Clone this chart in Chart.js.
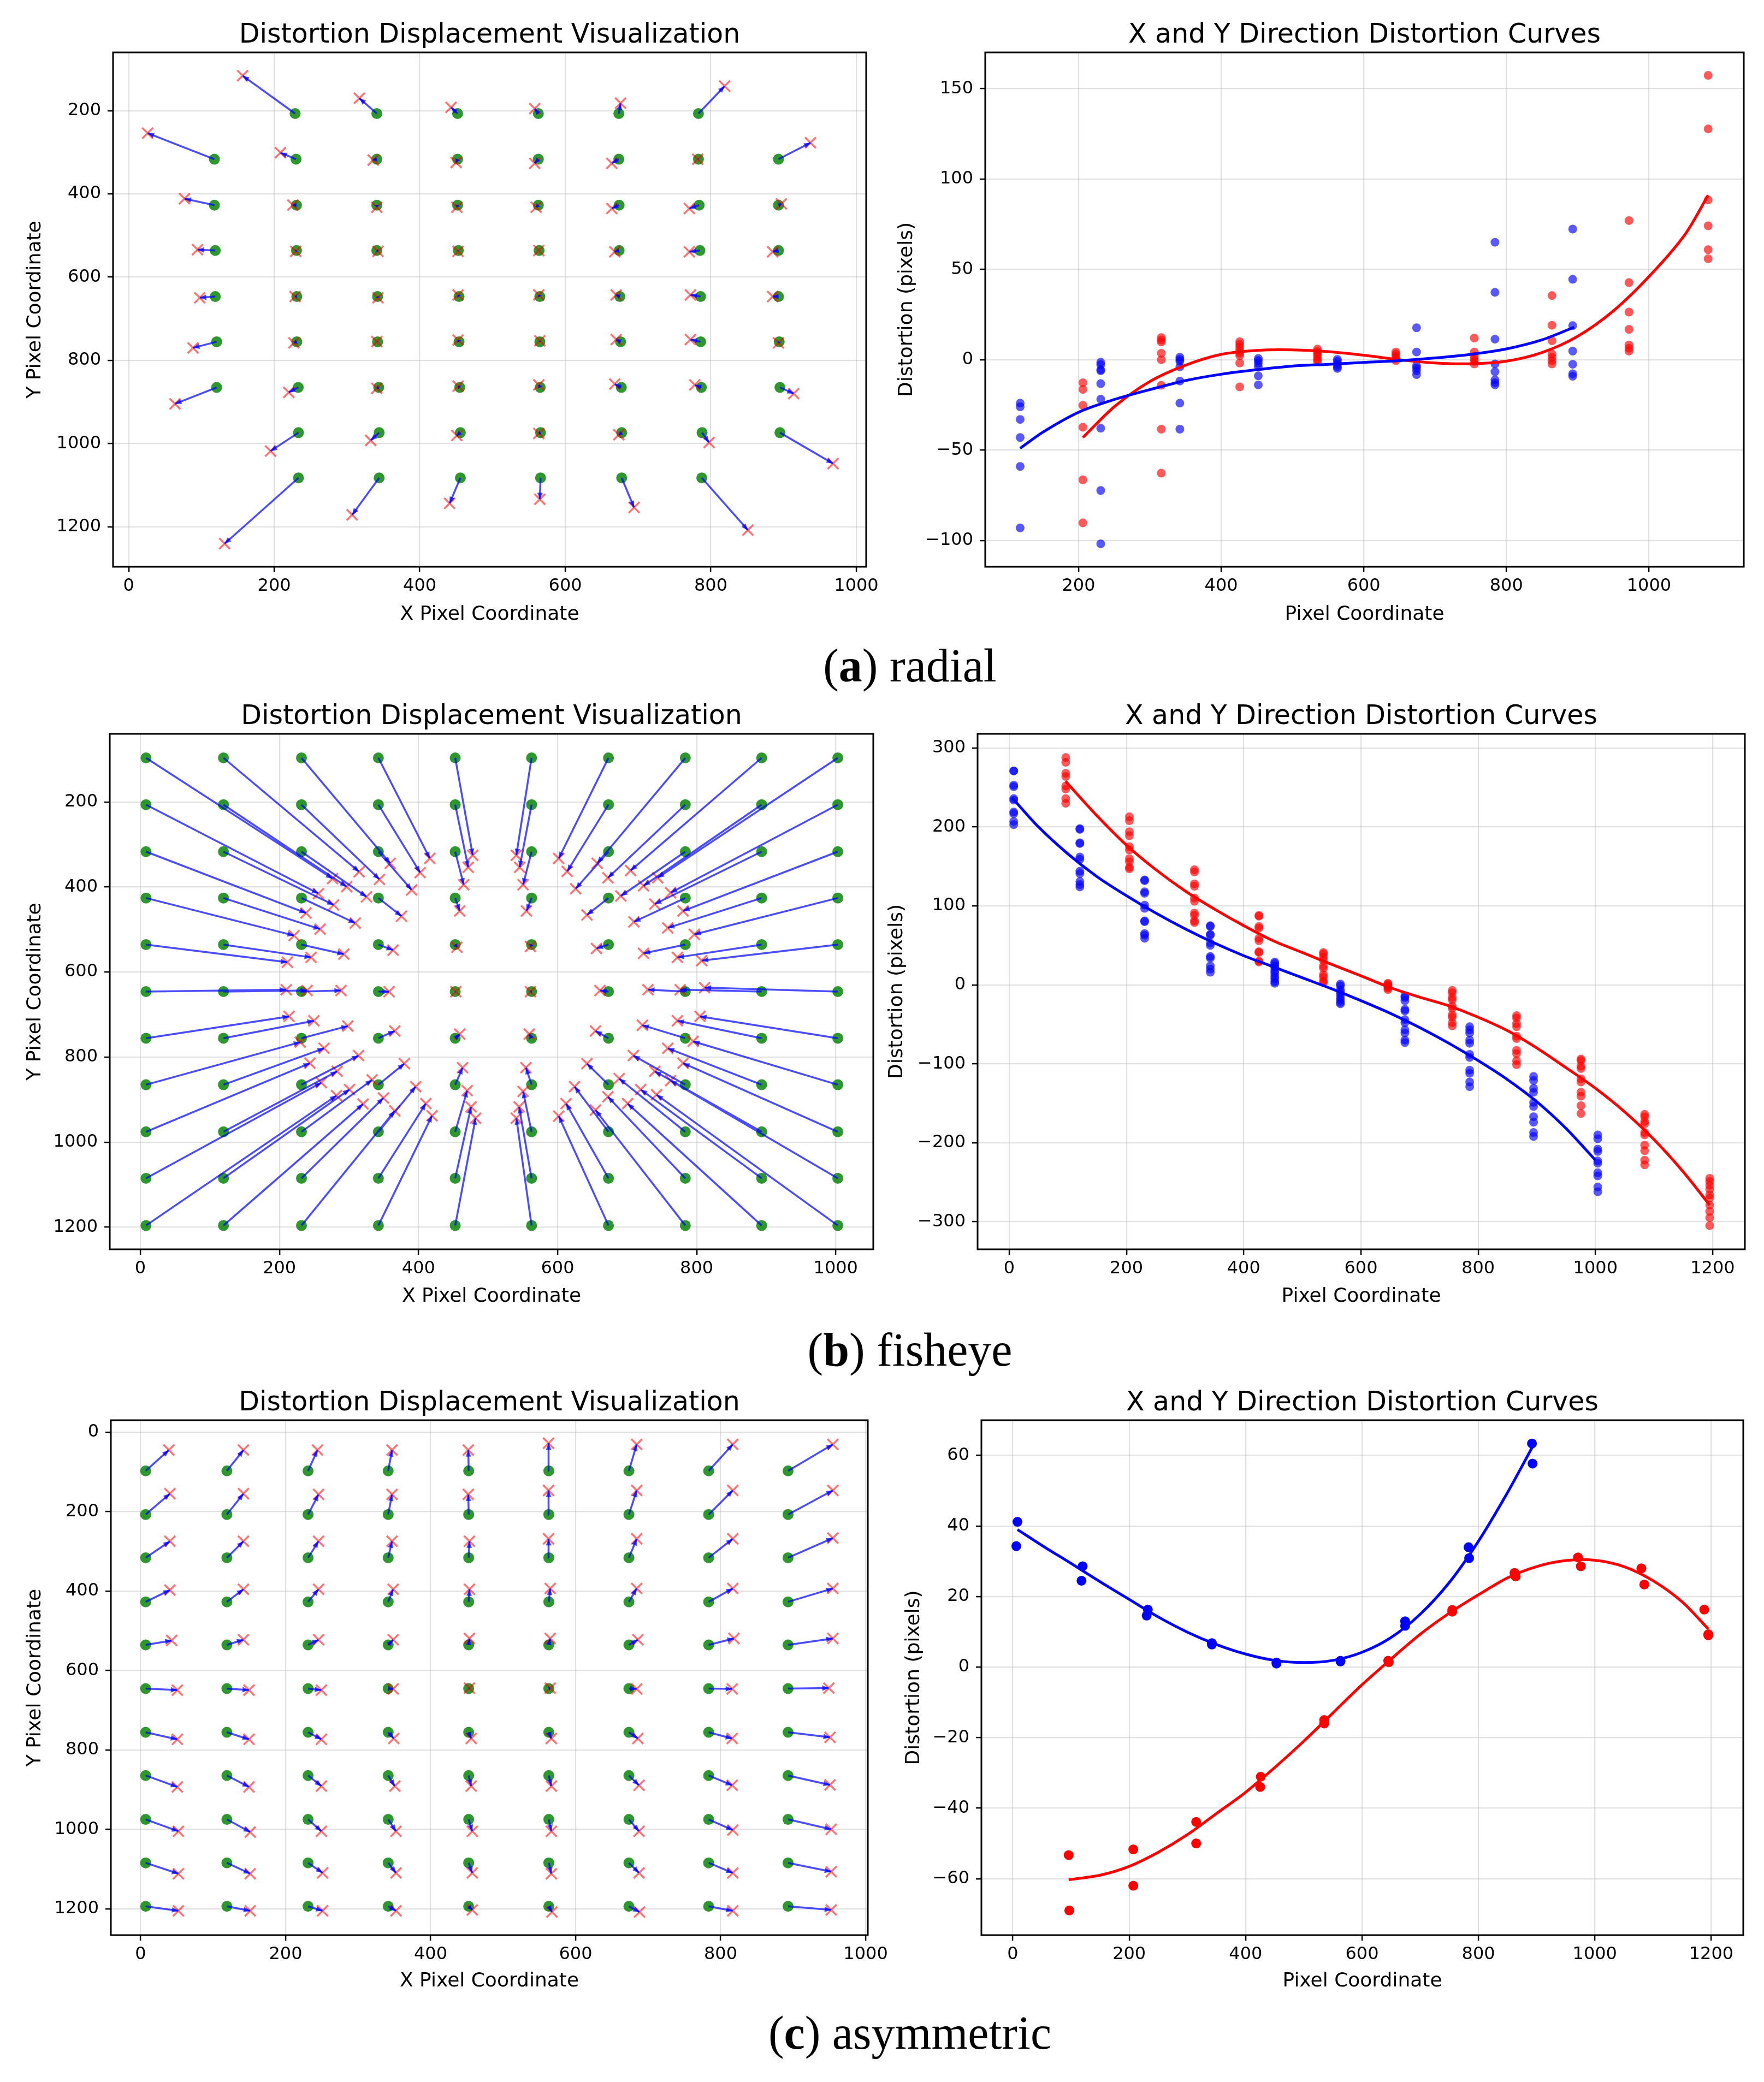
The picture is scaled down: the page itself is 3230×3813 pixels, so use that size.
<!DOCTYPE html>
<html>
<head>
<meta charset="utf-8">
<script src="https://cdn.jsdelivr.net/npm/chart.js@4.4.0/dist/chart.umd.min.js"></script>
<style>
html, body { margin: 0; padding: 0; background: #fff; }
body { width: 3230px; height: 3813px; position: relative; overflow: hidden; }
canvas { position: absolute; }
.caption { position: absolute; left: 0; width: 3332px; text-align: center; font-family: "Liberation Serif", serif; font-size: 86px; line-height: 86px; color: #000; white-space: nowrap; }
</style>
</head>
<body>
<canvas id="radialField"></canvas>
<canvas id="radialCurves"></canvas>
<canvas id="fisheyeField"></canvas>
<canvas id="fisheyeCurves"></canvas>
<canvas id="asymField"></canvas>
<canvas id="asymCurves"></canvas>
<div class="caption" style="top:1176px">(<b>a</b>) radial</div>
<div class="caption" style="top:2429px">(<b>b</b>) fisheye</div>
<div class="caption" style="top:3680px">(<b>c</b>) asymmetric</div>
<script>
// ---------- (a) radial : displacement field ----------
const radialRowY = [207, 316.6, 427, 536, 646.6, 755.3, 865, 973.7, 1082.4]
const radialOrigX = [
    [228.7, 341, 452, 563, 673.6, 783],
    [117.8, 230, 341, 452, 563, 673.6, 783, 893],
    [117.8, 230.6, 341, 452, 563, 674, 784, 893],
    [119, 230.6, 341, 453, 564, 674, 785, 893],
    [119, 231, 342, 454, 565, 675, 786, 893],
    [120.9, 231, 342, 454, 565, 676, 786, 894],
    [120.9, 233, 343.6, 455, 565.5, 677, 787, 895],
    [233.3, 344.2, 455.8, 566, 677.5, 788, 895],
    [233.3, 344.2, 455.8, 566, 677.5, 787.6]
]
const radialDistX = [
    [156.6, 317, 443, 558, 676, 819],
    [26, 208.5, 336, 450, 558, 664, 782, 937],
    [76.7, 225.6, 341, 451, 560, 664, 770.5, 897],
    [94.6, 229.5, 342.6, 452.7, 563.6, 668, 770.5, 885],
    [97.7, 228.7, 342.6, 452.7, 563.6, 670, 772, 885],
    [88.4, 227, 341, 452.7, 565, 670, 772, 893],
    [63.6, 220, 341, 452.7, 563.6, 668, 778, 914],
    [195, 332.6, 451, 563.6, 673.6, 797.7, 968],
    [131.8, 307, 441, 565, 694.6, 851]
]
const radialDistY = [
    [116, 170, 192, 195, 182, 141],
    [254, 301, 318.6, 324.5, 326.5, 326.5, 316.6, 277],
    [411.5, 427, 432, 432, 432, 435, 435, 424],
    [534, 538, 538, 538, 536, 539, 539, 539],
    [649.6, 646.6, 649.6, 642.7, 642.7, 642.7, 642.7, 646.6],
    [770, 758, 755, 751, 753, 750, 750, 758],
    [904.5, 877, 867, 862, 859, 857, 859, 880],
    [1018, 992.5, 980.6, 975.7, 978.7, 997.4, 1048],
    [1240.5, 1171.3, 1143.7, 1133.8, 1153.6, 1208]
]
const radialFieldXTicks = [0, 200, 400, 600, 800, 1000]
const radialFieldYTicks = [200, 400, 600, 800, 1000, 1200]

// ---------- (a) radial : curves ----------
const radialBlueCols = [118, 231, 342, 452, 563, 674, 784, 893]
const radialBlueVals = [
    [-24, -26, -33, -43, -59, -93],
    [-1.4, -2.7, -5.5, -6.1, -13.2, -21.8, -37.9, -72.3, -101.8],
    [1.4, 0.2, -0.9, -3.9, -11.8, -24, -38.4],
    [0.7, -0.5, -2, -3.9, -8.9, -13.9],
    [0.2, -0.9, -2.5, -3.9, -4.8],
    [17.7, 4.3, -3.2, -4.5, -6.1, -8.2],
    [65, 37.3, 11.4, -2.3, -6.6, -11.1, -12.7, -13.9],
    [72.3, 44.5, 18.9, 4.8, -2.5, -7.7, -9.1]
]
const radialRedCols = [206, 316, 426, 535, 645, 755, 864, 972, 1083]
const radialRedVals = [
    [-12.7, -16.4, -25.2, -37.3, -66.4, -90.2],
    [12.3, 10.9, 9.8, 3.6, 0, -14.1, -38.4, -62.7],
    [10, 8.6, 7, 5.2, 3.6, 2.3, -1.8, -15],
    [5.9, 4.5, 3.2, 1.8, 0.2, -0.9],
    [4.3, 3.2, 1.8, 0.7, -0.5],
    [12, 4.3, 2, 0.5, -0.9, -2.3],
    [35.5, 19.1, 10.5, 3.2, 1.4, -0.5, -2.3],
    [77, 42.7, 26.4, 16.8, 8.2, 6.4, 4.8],
    [157.3, 127.7, 88.4, 74.1, 60.9, 55.9]
]
const radialBlueCurveX = [118, 150, 200, 250, 300, 350, 400, 450, 500, 550, 600, 650, 700, 750, 800, 850, 895]
const radialBlueCurveY = [-49, -40, -29, -22, -16.5, -11.5, -8, -5.5, -3.5, -2.5, -1.5, -0.5, 1, 3, 6, 11, 18]
const radialRedCurveX = [206, 250, 300, 350, 400, 450, 500, 550, 600, 650, 700, 750, 800, 850, 900, 950, 1000, 1050, 1083]
const radialRedCurveY = [-43, -26, -12, -3, 3, 5.2, 5.5, 4.5, 2.5, 0, -1.8, -2.2, -0.8, 4, 13, 27, 46, 69, 91]
const radialCurveXTicks = [200, 400, 600, 800, 1000]
const radialCurveYTicks = [-100, -50, 0, 50, 100, 150]

// ---------- (b) fisheye : displacement field ----------
const fisheyeColX = [8.1, 119.5, 231.7, 342.3, 452.8, 562.6, 673.2, 783.7, 893.5, 1003]
const fisheyeRowY = [96.5, 206.5, 317, 426, 535.5, 646, 755.7, 865, 975.7, 1085, 1196]
const fisheyeDistX = [
    [276.4, 314.6, 359.3, 416.3, 478, 540.7, 601.6, 657, 705, 744],
    [256.1, 296.7, 343.9, 402.4, 471.5, 545.5, 613.8, 672.4, 723.6, 762.6],
    [238.2, 278, 325.2, 390.2, 465, 550.4, 626, 691, 739.8, 780.5],
    [221.1, 258.5, 309, 375.6, 459.3, 555.3, 642.3, 709.8, 758.5, 796.7],
    [211.4, 245.5, 292.7, 363.4, 455.3, 561, 656, 723.6, 772.4, 807.3],
    [209.8, 239.8, 288.6, 357.7, 453.7, 561, 661, 730, 776.4, 811.4],
    [213.8, 249.6, 298.4, 365.9, 459.3, 559.3, 654.5, 722, 772.4, 804.9],
    [230, 264.2, 313.8, 379.7, 463.4, 554.5, 642.3, 709, 758.5, 795],
    [243.9, 283, 333.3, 396, 470, 550.4, 624.4, 688.6, 739.8, 780.5],
    [260.2, 300.8, 349.6, 410.6, 475.6, 544.7, 612.2, 672.4, 719.5, 762.6],
    [282.1, 320.3, 365.9, 419.5, 482.1, 540.7, 601.6, 654.5, 700.8, 742.3]
]
const fisheyeDistY = [
    [380.4, 364.3, 344.3, 333, 325.4, 325.4, 333, 344.3, 361.4, 378.5],
    [415.6, 399.4, 382.3, 366.2, 353.8, 353.8, 363.3, 378.5, 397.5, 413.7],
    [461.2, 442.2, 423.2, 407, 394.7, 394.7, 404.2, 421.3, 440.3, 456.4],
    [514.3, 499.1, 484.9, 468.8, 456.4, 456.4, 465.9, 482, 496.3, 511.5],
    [577, 565.6, 558, 548.5, 541.9, 540, 544.7, 556.1, 565.6, 573.2],
    [641.6, 643.5, 643.5, 646.3, 646.3, 646.3, 643.5, 641.6, 641.6, 636.8],
    [704.3, 714.7, 727.1, 738.5, 746, 746, 738.5, 725.2, 714.7, 704.3],
    [765, 779.3, 796.4, 815.4, 824.9, 824.9, 815.4, 796.4, 779.3, 763.1],
    [814.4, 833.4, 853.4, 869.5, 879, 880.9, 869.5, 850.5, 833.4, 814.4],
    [860, 876.2, 896.1, 909.4, 917, 917, 909.4, 893.3, 876.2, 855.3],
    [890.4, 910.3, 926.5, 937.9, 943.6, 943.6, 938.8, 924.6, 909.4, 888.5]
]
const fisheyeFieldXTicks = [0, 200, 400, 600, 800, 1000]
const fisheyeFieldYTicks = [200, 400, 600, 800, 1000, 1200]

// ---------- (b) fisheye : curves ----------
const fisheyeBlueCols = [7.7, 120.5, 231, 343, 453, 565, 675, 785.5, 894.5, 1004]
const fisheyeBlueVals = [
    [271, 271, 253, 251, 236, 234, 219, 217, 207, 203],
    [198, 197, 180, 179, 162, 159, 144, 141, 131, 127, 124],
    [133, 132, 118, 116, 101, 97, 81, 80, 65, 63, 59],
    [75, 74, 64, 63, 53, 50, 36, 34, 24, 20, 16],
    [29, 27, 24, 22, 18, 15, 11, 8, 4, 2],
    [1, -1, -6, -9, -12, -16, -19, -22, -24],
    [-14, -16, -20, -31, -33, -44, -48, -57, -61, -70, -73],
    [-53, -57, -61, -70, -74, -88, -92, -108, -112, -123, -129],
    [-116, -121, -131, -136, -149, -154, -167, -174, -187, -192],
    [-190, -195, -208, -211, -223, -226, -238, -242, -256, -262]
]
const fisheyeRedCols = [96.4, 205, 316, 426, 536, 646, 755.7, 865.5, 975.4, 1084, 1195]
const fisheyeRedVals = [
    [288, 282, 268, 264, 252, 248, 236, 230],
    [213, 208, 194, 189, 175, 171, 160, 156, 149, 147],
    [146, 143, 128, 125, 110, 106, 91, 88, 81, 79],
    [88, 87, 74, 72, 59, 56, 42, 41, 30, 29],
    [41, 39, 35, 31, 24, 21, 13, 10, 5, 3],
    [2, 1, -1, -2, -4, -6],
    [-7, -10, -16, -19, -27, -30, -38, -41, -48, -52],
    [-39, -42, -49, -53, -65, -68, -83, -87, -96, -101],
    [-94, -96, -103, -106, -119, -123, -136, -141, -153, -163],
    [-164, -167, -173, -176, -187, -190, -203, -210, -222, -228],
    [-245, -249, -254, -259, -266, -270, -279, -287, -295, -305]
]
const fisheyeBlueCurveX = [5, 50, 100, 150, 200, 250, 300, 350, 400, 450, 500, 550, 600, 650, 700, 750, 800, 850, 900, 950, 1000]
const fisheyeBlueCurveY = [237, 200, 166, 137, 113, 91, 71, 53, 37, 23, 9, -5, -20, -36, -54, -74, -96, -120, -148, -182, -222]
const fisheyeRedCurveX = [96, 150, 200, 250, 300, 350, 400, 450, 500, 550, 600, 650, 700, 750, 800, 850, 900, 950, 1000, 1050, 1100, 1150, 1195]
const fisheyeRedCurveY = [258, 214, 177, 146, 119, 96, 75, 56, 41, 26, 11.5, -3.5, -15.5, -26.5, -41, -58, -80, -105, -131, -161, -196, -237, -279]
const fisheyeCurveXTicks = [0, 200, 400, 600, 800, 1000, 1200]
const fisheyeCurveYTicks = [-300, -200, -100, 0, 100, 200, 300]

// ---------- (c) asymmetric : displacement field ----------
const asymColX = [7, 119, 231, 341.5, 452.5, 563, 673.5, 783.5, 893]
const asymRowY = [97, 207, 316, 427, 535.5, 645.5, 755.5, 864.5, 975, 1084.5, 1194]
const asymDistX = [
    [39, 141.9, 244, 346.8, 452, 562.7, 684.3, 816.8, 954.8],
    [40.5, 141.9, 245.5, 346.8, 452, 562.7, 684.3, 816.8, 954.8],
    [40.5, 141.9, 245.5, 346.8, 453.6, 562.7, 684.3, 816.8, 954.8],
    [40.5, 141.9, 245.5, 348.4, 453.6, 565, 684.3, 816.8, 954.8],
    [42.9, 141.9, 245.5, 348.4, 453.6, 565, 685.9, 818.4, 954.8],
    [50.7, 149.6, 249.4, 348.4, 453.6, 565, 684.3, 816, 949.3],
    [50.7, 149.6, 249.4, 349.2, 456, 566.6, 685.9, 816, 950.9],
    [50.7, 149.6, 249.4, 350.7, 456, 566.6, 687.5, 816, 950.9],
    [52.2, 151.2, 249.4, 352.3, 457.5, 566.6, 687.5, 816.8, 952.5],
    [52.2, 151.2, 251, 352.3, 457.5, 566.6, 687.5, 816.8, 952.5],
    [52.2, 151.2, 251, 352.3, 457.5, 567.4, 688.2, 816.8, 952.5]
]
const asymDistY = [
    [44.7, 44.7, 44.7, 44.7, 44.7, 27.4, 30.5, 30.5, 30.5],
    [154.5, 154.5, 156.5, 156.5, 156.5, 146.3, 146.3, 146.3, 146.3],
    [274.4, 274.4, 274.4, 274.4, 274.4, 268.3, 268.3, 268.3, 266.3],
    [397.4, 395.3, 395.3, 395.3, 395.3, 393.3, 393.3, 393.3, 393.3],
    [524.4, 522.4, 522.4, 522.4, 519.3, 519.3, 522.4, 519.3, 519.3],
    [649.4, 649.4, 649.4, 646.3, 644.3, 644.3, 646.3, 646.3, 644.3],
    [773.4, 773.4, 773.4, 771.3, 771.3, 771.3, 771.3, 771.3, 768.3],
    [893.3, 893.3, 891.3, 891.3, 891.3, 891.3, 889.2, 889.2, 888.2],
    [1005, 1007, 1005, 1005, 1005, 1005, 1005, 1002, 1000],
    [1111.8, 1111.8, 1109.8, 1109.8, 1109.8, 1111.8, 1109.8, 1109.8, 1106.7],
    [1205.3, 1205.3, 1205.3, 1205.3, 1203, 1208.3, 1208.3, 1205.3, 1203]
]
const asymFieldXTicks = [0, 200, 400, 600, 800, 1000]
const asymFieldYTicks = [0, 200, 400, 600, 800, 1000, 1200]

// ---------- (c) asymmetric : curves ----------
const asymBlueX = [8, 6, 120, 118, 232, 230, 342, 342, 453, 453, 563, 563, 674, 674, 783, 784, 892, 893]
const asymBlueY = [41.2, 34.3, 28.6, 24.5, 16.3, 14.6, 6.8, 6.4, 1.0, 1.3, 1.6, 1.8, 13, 11.7, 34, 30.9, 63.4, 57.7]
const asymRedX = [96, 97, 207, 207, 315, 315, 426, 425, 535, 535, 645, 646, 755, 755, 862, 864, 971, 976, 1080, 1085, 1188, 1195, 1195]
const asymRedY = [-53.3, -69, -51.7, -62, -43.9, -50, -31.1, -34, -15, -16, 1.8, 1.4, 16.2, 15.7, 26.7, 25.7, 31.1, 28.6, 28, 23.4, 16.3, 9.3, 9]
const asymBlueCurveX = [8, 50, 100, 150, 200, 250, 300, 350, 400, 450, 500, 550, 600, 650, 700, 750, 800, 850, 893]
const asymBlueCurveY = [39, 34.5, 29.4, 24.2, 19.2, 14.2, 9.9, 6.4, 3.7, 1.9, 1.3, 1.9, 4.2, 8.4, 15, 24, 35.7, 49.5, 62.5]
const asymRedCurveX = [96, 150, 200, 250, 300, 350, 400, 450, 500, 550, 600, 650, 700, 750, 800, 850, 900, 950, 1000, 1050, 1100, 1150, 1195]
const asymRedCurveY = [-60.3, -59, -56.5, -52.5, -47.5, -41.5, -35.5, -28.5, -21, -13, -5, 2.3, 9.3, 15.3, 20.5, 25.3, 28.5, 30.2, 30.3, 28.5, 24.5, 18.5, 10.8]
const asymCurveXTicks = [0, 200, 400, 600, 800, 1000, 1200]
const asymCurveYTicks = [-60, -40, -20, 0, 20, 40, 60]

// ---------- helpers ----------
Chart.defaults.font.family = "'DejaVu Sans', sans-serif"
Chart.defaults.color = '#000'

const GRID = 'rgba(176,176,176,0.38)'

const pairs = (xs, ys) => xs.map((x, i) => ({ x, y: ys[i] }))
const columns = (xs, vals) => xs.flatMap((x, i) => vals[i].map(v => ({ x, y: v })))
const gridOf = (colX, rowY) => rowY.flatMap(y => colX.map(x => ({ x, y })))
const nested = (xRows, yRows) => xRows.flatMap((row, r) => row.map((x, c) => ({ x, y: yRows[r][c] })))

// black box around the plot area, like matplotlib spines
const framePlugin = {
    id: 'frame',
    afterDraw(chart) {
        const { ctx, chartArea: a } = chart
        ctx.save()
        ctx.strokeStyle = '#000'
        ctx.lineWidth = 3
        ctx.strokeRect(a.left, a.top, a.right - a.left, a.bottom - a.top)
        ctx.restore()
    }
}

// small heads at the end of each displacement segment
const arrowPlugin = {
    id: 'arrowHeads',
    afterDatasetsDraw(chart) {
        const { ctx, scales: { x, y } } = chart
        chart.data.datasets.forEach(ds => {
            if (!ds.arrowHead) return
            ctx.save()
            ctx.fillStyle = ds.borderColor
            for (let i = 0; i + 1 < ds.data.length; i += 3) {
                const x0 = x.getPixelForValue(ds.data[i].x), y0 = y.getPixelForValue(ds.data[i].y)
                const x1 = x.getPixelForValue(ds.data[i + 1].x), y1 = y.getPixelForValue(ds.data[i + 1].y)
                const len = Math.hypot(x1 - x0, y1 - y0)
                if (len < 2) continue
                const ux = (x1 - x0) / len, uy = (y1 - y0) / len
                const h = Math.min(12, len), w = 5
                ctx.beginPath()
                ctx.moveTo(x1, y1)
                ctx.lineTo(x1 - ux * h - uy * w, y1 - uy * h + ux * w)
                ctx.lineTo(x1 - ux * h + uy * w, y1 - uy * h - ux * w)
                ctx.closePath()
                ctx.fill()
            }
            ctx.restore()
        })
    }
}

function fieldDatasets(orig, dist) {
    const segs = []
    orig.forEach((p, i) => segs.push(p, dist[i], { x: dist[i].x, y: null }))
    return [
        { data: segs, showLine: true, borderColor: 'rgba(0,0,255,0.7)', borderWidth: 3.5, pointRadius: 0, spanGaps: false, arrowHead: true, order: 0 },
        { data: dist, pointStyle: 'crossRot', pointRadius: 14, borderColor: 'rgba(255,0,0,0.55)', pointBorderColor: 'rgba(255,0,0,0.55)', borderWidth: 3.5, pointBorderWidth: 3.5, backgroundColor: 'rgba(0,0,0,0)', order: 1 },
        { data: orig, pointRadius: 10, backgroundColor: 'rgba(0,128,0,0.82)', pointBackgroundColor: 'rgba(0,128,0,0.82)', borderWidth: 0, pointBorderWidth: 0, order: 2 }
    ]
}

function curveDatasets(blueCurve, redCurve, bluePts, redPts, alpha, radius) {
    const blue = `rgba(0,0,255,${alpha})`, red = `rgba(255,0,0,${alpha})`
    return [
        { data: blueCurve, showLine: true, borderColor: '#0000ff', borderWidth: 5, pointRadius: 0, tension: 0.3, order: 0 },
        { data: redCurve, showLine: true, borderColor: '#ff0000', borderWidth: 5, pointRadius: 0, tension: 0.3, order: 0 },
        { data: bluePts, pointRadius: radius, backgroundColor: blue, pointBackgroundColor: blue, borderWidth: 0, pointBorderWidth: 0, order: 1 },
        { data: redPts, pointRadius: radius, backgroundColor: red, pointBackgroundColor: red, borderWidth: 0, pointBorderWidth: 0, order: 1 }
    ]
}

function axisOptions(range, ticks, title, horizontal, titlePad, size, reverse) {
    return {
        type: 'linear',
        min: range[0],
        max: range[1],
        reverse: !!reverse,
        afterBuildTicks: s => { s.ticks = ticks.map(v => ({ value: v })) },
        afterFit: s => { if (horizontal) s.height = size; else s.width = size },
        grid: { color: GRID, lineWidth: 2.2, drawTicks: true, tickLength: 10, tickColor: '#000', tickWidth: 2.5 },
        border: { display: false },
        ticks: { font: { size: 32 }, color: '#000', padding: horizontal ? 6 : 12, maxRotation: 0, autoSkip: false, callback: v => String(v).replace('-', '\u2212') },
        title: { display: true, text: title, font: { size: 36 }, color: '#000', padding: horizontal ? { top: 0, bottom: titlePad } : { top: titlePad, bottom: 0 } }
    }
}

function drawPanel(id, frame, spec) {
    const padL = 200, padT = 90, padR = 50, padB = 130
    const canvas = document.getElementById(id)
    const w = frame.r - frame.l + padL + padR
    const h = frame.b - frame.t + padT + padB
    canvas.width = w
    canvas.height = h
    canvas.style.left = (frame.l - padL) + 'px'
    canvas.style.top = (frame.t - padT) + 'px'
    canvas.style.width = w + 'px'
    canvas.style.height = h + 'px'

    return new Chart(canvas, {
        type: 'scatter',
        data: { datasets: spec.datasets },
        options: {
            responsive: false,
            devicePixelRatio: 1,
            animation: false,
            layout: { padding: { left: 0, top: 0, right: padR, bottom: 0 } },
            plugins: {
                legend: { display: false },
                tooltip: { enabled: false },
                title: {
                    display: true, text: spec.title, fullSize: false, color: '#000',
                    font: { size: 49, weight: 'normal' },
                    padding: { top: 30, bottom: 90 - 30 - 49 * 1.2 }
                }
            },
            scales: {
                x: axisOptions(spec.xRange, spec.xTicks, spec.xTitle, true, spec.xTitlePad, padB, false),
                y: axisOptions(spec.yRange, spec.yTicks, spec.yTitle, false, spec.yTitlePad, padL, spec.reverseY)
            }
        },
        plugins: [framePlugin, arrowPlugin]
    })
}

const leftTitle = 'Distortion Displacement Visualization'
const rightTitle = 'X and Y Direction Distortion Curves'

// (a)
drawPanel('radialField', { l: 207, t: 96, r: 1586, b: 1038 }, {
    title: leftTitle, xTitle: 'X Pixel Coordinate', yTitle: 'Y Pixel Coordinate',
    xRange: [-21.5, 1013.5], yRange: [60, 1296], reverseY: true,
    xTicks: radialFieldXTicks, yTicks: radialFieldYTicks, xTitlePad: 21, yTitlePad: 36,
    datasets: fieldDatasets(
        radialOrigX.flatMap((row, r) => row.map(x => ({ x, y: radialRowY[r] }))),
        nested(radialDistX, radialDistY))
})
drawPanel('radialCurves', { l: 1804, t: 96, r: 3193, b: 1038 }, {
    title: rightTitle, xTitle: 'Pixel Coordinate', yTitle: 'Distortion (pixels)',
    xRange: [69, 1133], yRange: [-114.5, 170],
    xTicks: radialCurveXTicks, yTicks: radialCurveYTicks, xTitlePad: 21, yTitlePad: 35,
    datasets: curveDatasets(pairs(radialBlueCurveX, radialBlueCurveY), pairs(radialRedCurveX, radialRedCurveY),
        columns(radialBlueCols, radialBlueVals), columns(radialRedCols, radialRedVals), 0.65, 8)
})

// (b)
drawPanel('fisheyeField', { l: 201, t: 1344, r: 1599, b: 2288 }, {
    title: leftTitle, xTitle: 'X Pixel Coordinate', yTitle: 'Y Pixel Coordinate',
    xRange: [-44, 1054], yRange: [40, 1252], reverseY: true,
    xTicks: fisheyeFieldXTicks, yTicks: fisheyeFieldYTicks, xTitlePad: 22, yTitlePad: 42,
    datasets: fieldDatasets(gridOf(fisheyeColX, fisheyeRowY), nested(fisheyeDistX, fisheyeDistY))
})
drawPanel('fisheyeCurves', { l: 1790, t: 1344, r: 3195, b: 2288 }, {
    title: rightTitle, xTitle: 'Pixel Coordinate', yTitle: 'Distortion (pixels)',
    xRange: [-54, 1255], yRange: [-335, 318],
    xTicks: fisheyeCurveXTicks, yTicks: fisheyeCurveYTicks, xTitlePad: 22, yTitlePad: 31,
    datasets: curveDatasets(pairs(fisheyeBlueCurveX, fisheyeBlueCurveY), pairs(fisheyeRedCurveX, fisheyeRedCurveY),
        columns(fisheyeBlueCols, fisheyeBlueVals), columns(fisheyeRedCols, fisheyeRedVals), 0.65, 8)
})

// (c)
drawPanel('asymField', { l: 203, t: 2601, r: 1589, b: 3544 }, {
    title: leftTitle, xTitle: 'X Pixel Coordinate', yTitle: 'Y Pixel Coordinate',
    xRange: [-41, 1003], yRange: [-30.5, 1266.5], reverseY: true,
    xTicks: asymFieldXTicks, yTicks: asymFieldYTicks, xTitlePad: 24, yTitlePad: 40,
    datasets: fieldDatasets(gridOf(asymColX, asymRowY), nested(asymDistX, asymDistY))
})
drawPanel('asymCurves', { l: 1797, t: 2601, r: 3192, b: 3544 }, {
    title: rightTitle, xTitle: 'Pixel Coordinate', yTitle: 'Distortion (pixels)',
    xRange: [-54, 1255], yRange: [-76, 70],
    xTicks: asymCurveXTicks, yTicks: asymCurveYTicks, xTitlePad: 24, yTitlePad: 55,
    datasets: curveDatasets(pairs(asymBlueCurveX, asymBlueCurveY), pairs(asymRedCurveX, asymRedCurveY),
        pairs(asymBlueX, asymBlueY), pairs(asymRedX, asymRedY), 1, 9)
})
</script>
</body>
</html>
